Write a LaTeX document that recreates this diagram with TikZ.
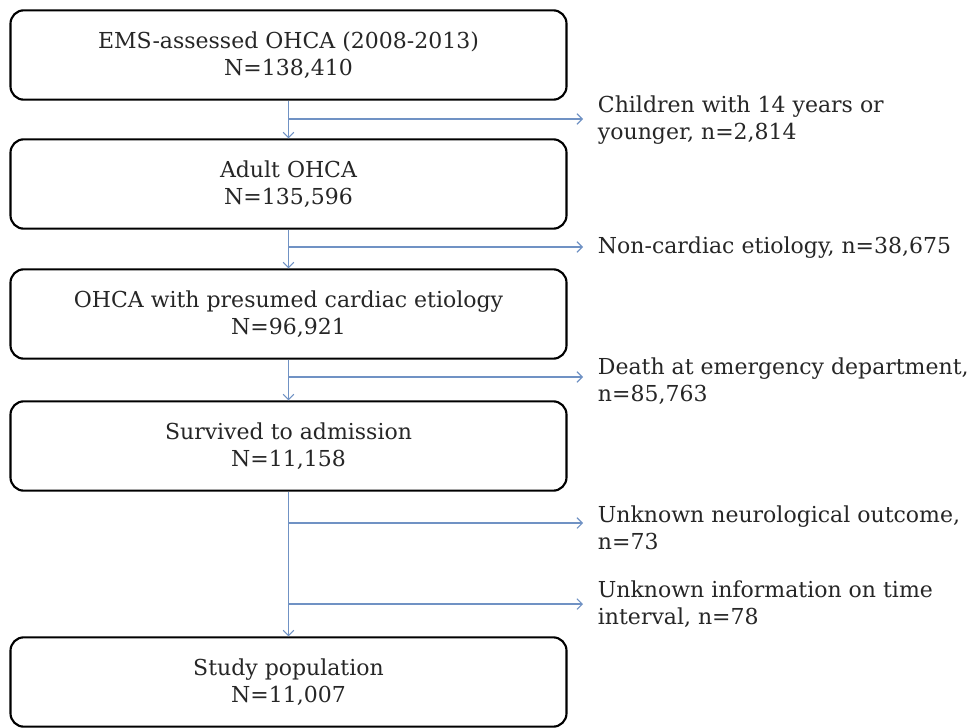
\documentclass[tikz,border=0pt]{standalone}
\usepackage{fontspec}
\setmainfont{DejaVu Serif}
\usetikzlibrary{arrows.meta,positioning}

\definecolor{linkblue}{RGB}{112,146,196}

\tikzset{
  stage/.style={draw=black, line width=1.6pt, rounded corners=10pt,
    minimum width=417pt, minimum height=67pt, align=center,
    font=\fontsize{16.5}{20}\selectfont, text=black!85},
  excl/.style={anchor=west, align=left, inner xsep=11pt, inner ysep=0pt,
    font=\fontsize{16.5}{20}\selectfont, text=black!85},
  flow/.style={draw=linkblue, line width=0.8pt,
    -{Straight Barb[length=4pt,width=8pt]}},
}

\begin{document}
\begin{tikzpicture}[x=0.75pt,y=-0.75pt]

\useasboundingbox (0,0) rectangle (972,728);

% main stages
\node[stage] (b1) at (288.5,55)  {EMS-assessed OHCA (2008-2013)\\N=138,410};
\node[stage] (b2) at (288.5,184) {Adult OHCA\\N=135,596};
\node[stage] (b3) at (288.5,314) {OHCA with presumed cardiac etiology\\N=96,921};
\node[stage] (b4) at (288.5,446) {Survived to admission\\N=11,158};
\node[stage] (b5) at (288.5,682) {Study population\\N=11,007};

% exclusions
\node[excl] (e1) at (583,120) {Children with 14 years or\\younger, n=2,814};
\node[excl] (e2) at (583,248) {Non-cardiac etiology, n=38,675};
\node[excl] (e3) at (583,381) {Death at emergency department,\\n=85,763};
\node[excl] (e4) at (583,528) {Unknown neurological outcome,\\n=73};
\node[excl] (e5) at (583,604) {Unknown information on time\\interval, n=78};

\coordinate (k1) at (288.5,119);
\coordinate (k2) at (288.5,247);
\coordinate (k3) at (288.5,377);
\coordinate (k4) at (288.5,523);
\coordinate (k5) at (288.5,604);

\draw[flow] (b1) -- (b2);
\draw[flow] (b2) -- (b3);
\draw[flow] (b3) -- (b4);
\draw[flow] (b4) -- (b5);

\foreach \k in {1,2,3,4,5}
    \draw[flow] (k\k) -- (k\k -| e\k.west);

\end{tikzpicture}
\end{document}
